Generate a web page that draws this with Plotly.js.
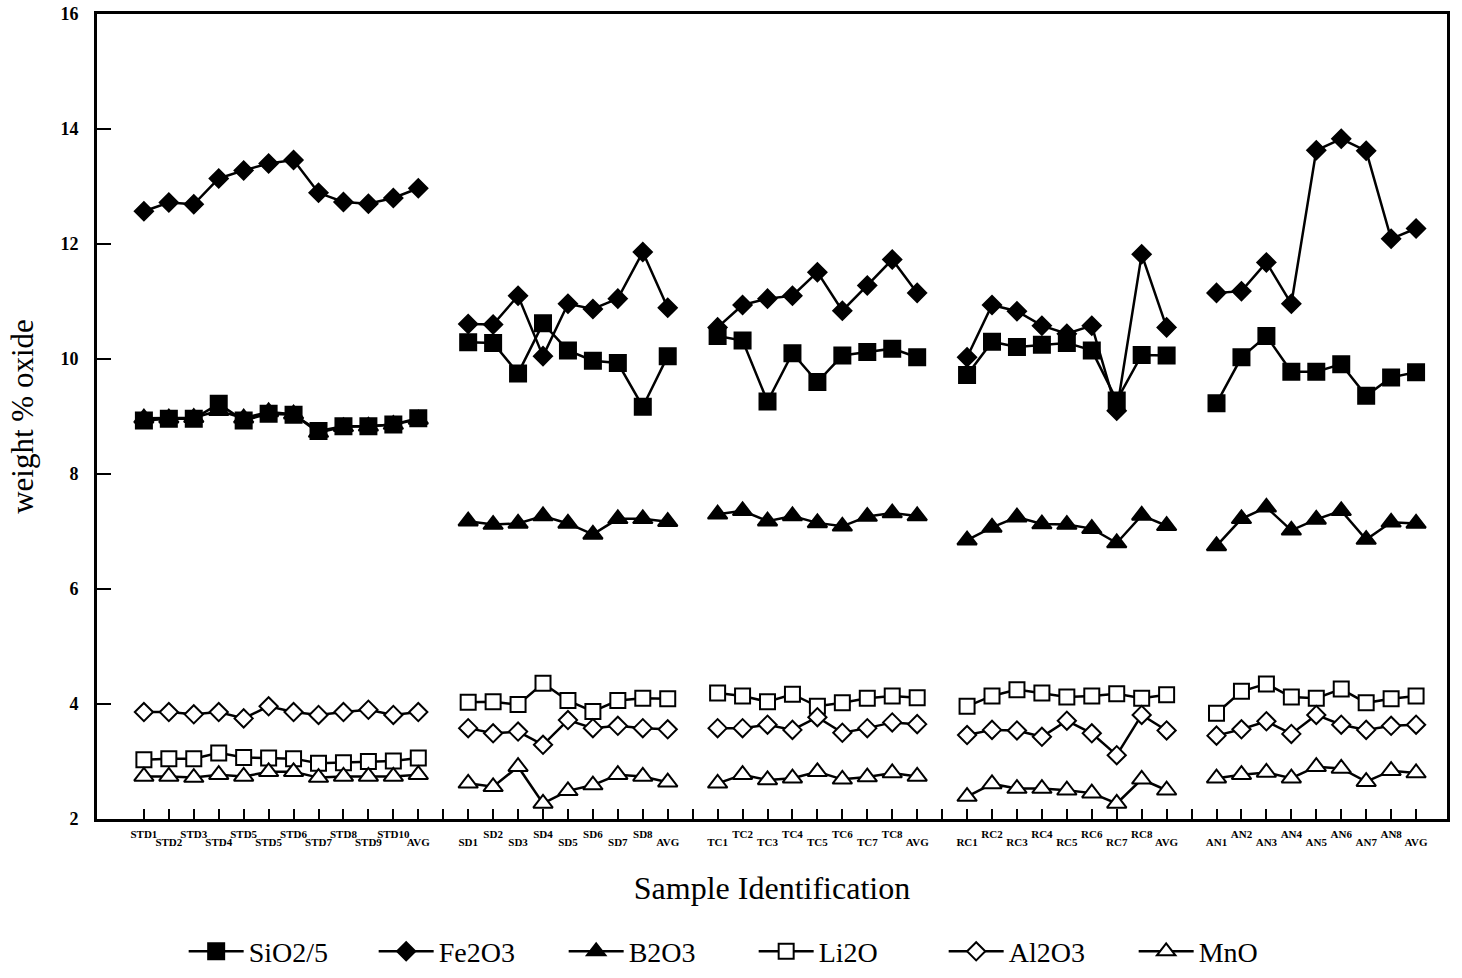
<!DOCTYPE html>
<html><head><meta charset="utf-8">
<script src="https://cdn.plot.ly/plotly-3.0.1.min.js"></script>
<style>html,body{margin:0;padding:0;background:#fff}#chart{width:1462px;height:978px}</style>
</head><body><div id="chart"></div>
<script>
// Sample groups and their tick labels (as printed on the original)
const stdLabels = ['STD1','STD2','STD3','STD4','STD5','STD5','STD6','STD7','STD8','STD9','STD10','AVG'];
const sdLabels  = ['SD1','SD2','SD3','SD4','SD5','SD6','SD7','SD8','AVG'];
const tcLabels  = ['TC1','TC2','TC3','TC4','TC5','TC6','TC7','TC8','AVG'];
const rcLabels  = ['RC1','RC2','RC3','RC4','RC5','RC6','RC7','RC8','AVG'];
const anLabels  = ['AN1','AN2','AN3','AN4','AN5','AN6','AN7','AN8','AVG'];

// weight % oxide, in order STD | SD | TC | RC | AN
const sio2 = [8.93,8.96,8.96,9.22,8.93,9.05,9.03,8.75,8.83,8.83,8.86,8.97,
  10.29,10.28,9.75,10.62,10.15,9.97,9.93,9.17,10.05,
  10.40,10.32,9.26,10.10,9.60,10.06,10.12,10.18,10.03,
  9.72,10.30,10.21,10.25,10.28,10.15,9.28,10.07,10.06,
  9.23,10.03,10.40,9.78,9.78,9.91,9.36,9.68,9.77];
const fe2o3 = [12.57,12.72,12.69,13.14,13.28,13.40,13.46,12.89,12.73,12.70,12.80,12.97,
  10.61,10.60,11.10,10.05,10.96,10.87,11.05,11.86,10.89,
  10.55,10.94,11.05,11.10,11.51,10.84,11.28,11.73,11.15,
  10.03,10.94,10.83,10.58,10.44,10.58,9.10,11.82,10.55,
  11.15,11.18,11.68,10.96,13.63,13.83,13.62,12.09,12.27];
const b2o3 = [8.97,8.97,8.98,9.10,8.97,9.08,9.04,8.72,8.82,8.83,8.86,8.95,
  7.18,7.12,7.14,7.27,7.14,6.95,7.22,7.22,7.17,
  7.30,7.36,7.18,7.27,7.15,7.09,7.26,7.32,7.27,
  6.85,7.07,7.25,7.13,7.12,7.05,6.80,7.28,7.10,
  6.75,7.22,7.42,7.02,7.21,7.36,6.86,7.16,7.14];
const li2o = [3.03,3.05,3.05,3.15,3.07,3.06,3.05,2.97,2.98,3.00,3.01,3.06,
  4.03,4.04,3.99,4.36,4.06,3.87,4.06,4.10,4.09,
  4.19,4.14,4.04,4.17,3.96,4.02,4.10,4.14,4.11,
  3.96,4.14,4.25,4.19,4.12,4.14,4.18,4.10,4.16,
  3.84,4.22,4.35,4.12,4.10,4.26,4.02,4.09,4.14];
const al2o3 = [3.86,3.86,3.82,3.86,3.75,3.96,3.86,3.81,3.86,3.90,3.81,3.86,
  3.58,3.49,3.52,3.29,3.72,3.58,3.62,3.58,3.56,
  3.58,3.58,3.64,3.55,3.77,3.50,3.58,3.68,3.65,
  3.46,3.55,3.54,3.43,3.71,3.49,3.11,3.81,3.54,
  3.45,3.56,3.70,3.48,3.81,3.64,3.55,3.62,3.64];
const mno = [2.74,2.74,2.72,2.77,2.74,2.82,2.82,2.72,2.74,2.74,2.74,2.77,
  2.62,2.56,2.91,2.27,2.49,2.59,2.77,2.74,2.64,
  2.62,2.77,2.68,2.71,2.82,2.69,2.73,2.80,2.74,
  2.39,2.61,2.53,2.53,2.50,2.45,2.27,2.69,2.50,
  2.71,2.77,2.81,2.71,2.91,2.88,2.65,2.84,2.80];

const seriesNames = ['SiO2/5','Fe2O3','B2O3','Li2O','Al2O3','MnO'];
const seriesValues = [sio2, fe2o3, b2o3, li2o, al2o3, mno];

// ---- build categorical x axis with one spacer between groups ----
const groups = [['STD',stdLabels],['SD',sdLabels],['TC',tcLabels],['RC',rcLabels],['AN',anLabels]];
const cats = [], tickText = [], sampleIdx = [];
let s = 0;
groups.forEach(([g, labels], gi) => {
  if (gi > 0) { cats.push('gap' + gi); tickText.push(''); sampleIdx.push(-1); }
  labels.forEach((lab, i) => { cats.push(g + '|' + i); tickText.push(lab); sampleIdx.push(s++); });
});
// labels alternate between an upper row (even positions) and a lower row (odd positions)
const upperText = tickText.map((t, i) => i % 2 === 0 ? t : '');
const lowerText = tickText.map((t, i) => i % 2 === 1 ? t : '');

const styles = [
  {symbol:'square', size:16, color:'#000'},
  {symbol:'diamond', size:14, color:'#000'},
  {symbol:'triangle-up', size:17, color:'#000'},
  {symbol:'square', size:15, color:'#fff'},
  {symbol:'diamond', size:14, color:'#fff'},
  {symbol:'triangle-up', size:17, color:'#fff'}
];

const traces = seriesNames.map((name, k) => ({
  type:'scatter', mode:'lines+markers', name:name,
  x: cats,
  y: sampleIdx.map(j => j < 0 ? null : seriesValues[k][j]),
  connectgaps:false,
  line:{color:'#000', width:2.5},
  marker:{symbol:styles[k].symbol, size:styles[k].size, color:styles[k].color,
          line:{color:'#000', width:2}},
  cliponaxis:false
}));
// invisible carrier trace for the lower row of tick labels
traces.push({type:'scatter', mode:'markers', x:cats, y:cats.map(() => null),
  xaxis:'x2', yaxis:'y', showlegend:false, hoverinfo:'skip', marker:{opacity:0}});

const serif = 'Liberation Serif, Times New Roman, serif';
const tickFont = {family:serif, size:11, color:'#000', weight:'bold'};
const layout = {
  width:1462, height:978,
  margin:{l:97, r:15, t:14, b:159},
  paper_bgcolor:'#fff', plot_bgcolor:'#fff',
  showlegend:true,
  legend:{orientation:'h', x:0.0642, xanchor:'left', yref:'container', y:0.027, yanchor:'middle',
          font:{family:serif, size:28, color:'#000'}, entrywidth:120, entrywidthmode:'pixels',
          itemwidth:55, bgcolor:'rgba(0,0,0,0)'},
  xaxis:{type:'category', categoryorder:'array', categoryarray:cats, automargin:false,
         range:[-1.88, 52.24], tickmode:'array', tickvals:cats, ticktext:upperText,
         ticks:'inside', ticklen:10, tickwidth:2, tickcolor:'#000',
         showline:true, mirror:true, linewidth:3, linecolor:'#000',
         showgrid:false, zeroline:false, tickangle:0, ticklabelstandoff:3,
         tickfont:tickFont,
         title:{text:'Sample Identification', font:{family:serif, size:32, color:'#000'}, standoff:38}},
  xaxis2:{type:'category', categoryorder:'array', categoryarray:cats, overlaying:'x', anchor:'y',
         side:'bottom', range:[-1.88, 52.24], tickmode:'array', tickvals:cats, ticktext:lowerText,
         ticks:'', showline:false, showgrid:false, zeroline:false, tickangle:0, automargin:false,
         ticklabelstandoff:15, tickfont:tickFont},
  yaxis:{range:[2,16], dtick:2, tick0:2, ticks:'inside', ticklen:14, tickwidth:2, tickcolor:'#000',
         showline:true, mirror:true, linewidth:3, linecolor:'#000', automargin:false,
         showgrid:false, zeroline:false, ticklabelstandoff:12,
         tickfont:{family:serif, size:18, color:'#000', weight:'bold'},
         title:{text:'weight % oxide', font:{family:serif, size:31, color:'#000'}, standoff:18}}
};

Plotly.newPlot('chart', traces, layout, {staticPlot:true, displayModeBar:false});
</script></body></html>
